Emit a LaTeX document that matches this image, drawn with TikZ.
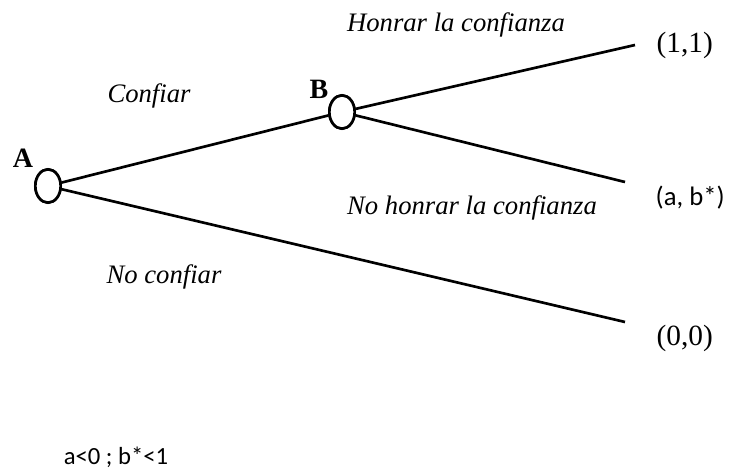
\documentclass[tikz,border=0pt]{standalone}
\usepackage{fontspec}
\setmainfont{Liberation Serif}
\newfontfamily\calib{Carlito}
\usetikzlibrary{shapes.geometric,positioning}

\begin{document}
\begin{tikzpicture}[x=0.75pt,y=-0.75pt,
  decision/.style={draw,ellipse,line width=2pt,fill=white,inner sep=0pt,
    minimum width=19pt,minimum height=25pt},
  branch/.style={line width=2pt},
  movelabel/.style={font=\fontsize{20}{24}\selectfont\itshape},
  payoff/.style={font=\fontsize{22}{26}\selectfont,anchor=west},
  player/.style={font=\fontsize{21}{25}\selectfont\bfseries}]
  \useasboundingbox (0,0) rectangle (731,470);
  % terminal points
  \coordinate (t1) at (635,45);
  \coordinate (t2) at (625,182);
  \coordinate (t3) at (625,322);
  \node[decision] (A) at (48,186) {};
  \node[decision] (B) at (342,112) {};
  % branches
  \draw[branch] (A) -- (B);
  \draw[branch] (B) -- (t1);
  \draw[branch] (B) -- (t2);
  \draw[branch] (A) -- (t3);
  \node[decision] at (A) {};
  \node[decision] at (B) {};
  % players
  \node[player] (pA) at (23,158) {A};
  \node[player] (pB) at (319,89) {B};
  % moves
  \node[movelabel] (m1) at (149,96) {Confiar};
  \node[movelabel] (m2) at (456,25) {Honrar la confianza};
  \node[movelabel] (m3) at (472,208) {No honrar la confianza};
  \node[movelabel] (m4) at (164,277) {No confiar};
  % payoffs
  \node[payoff] (p1) at (652,45) {(1,1)};
  \node[payoff,font=\calib\fontsize{20}{24}\selectfont] (p2) at (651,198) {(a, b*)};
  \node[payoff] (p3) at (652,338) {(0,0)};
  \node[font=\calib\fontsize{18.5}{22}\selectfont] (cond) at (116,457) {a<0 ; b*<1};
\end{tikzpicture}
\end{document}
